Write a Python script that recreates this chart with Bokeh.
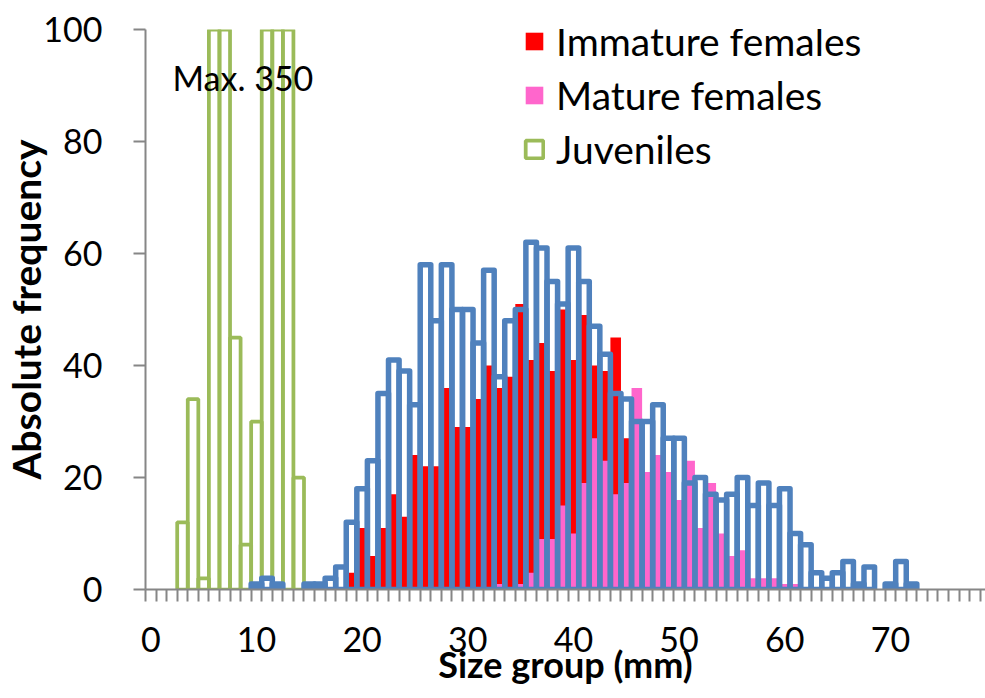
from bokeh.plotting import figure
from bokeh.models import Range1d, FixedTicker, Legend, LegendItem, Label
from bokeh.embed import file_html
from bokeh.resources import INLINE

# ---- data (size group in mm, absolute frequency) ----
x_tick_values = [0, 10, 20, 30, 40, 50, 60, 70]
x_tick_labels = ["0", "10", "20", "30", "40", "50", "60", "70"]
y_tick_values = [0, 20, 40, 60, 80, 100]

juvenile_sizes = [3, 4, 5, 6, 7, 8, 9, 10, 11, 12, 13, 14]
juvenile_counts = [12, 34, 2, 160, 230, 45, 8, 30, 350, 280, 140, 20]

other_sizes = [10, 11, 12, 15, 16, 17, 18, 19, 20, 21, 22, 23, 24, 25, 26, 27, 28, 29, 30,
               31, 32, 33, 34, 35, 36, 37, 38, 39, 40, 41, 42, 43, 44, 45, 46, 47, 48, 49,
               50, 51, 52, 53, 54, 55, 56, 57, 58, 59, 60, 61, 62, 63, 64, 65, 66, 67, 68,
               70, 71, 72]
other_counts = [1, 2, 1, 1, 1, 2, 4, 12, 18, 23, 35, 41, 39, 33, 58, 48, 58, 50, 50,
                44, 57, 38, 48, 50, 62, 61, 55, 51, 61, 55, 47, 42, 35, 34, 30, 30, 33, 27,
                27, 19, 20, 17, 16, 17, 20, 15, 19, 15, 18, 10, 8, 3, 2, 3, 5, 1, 4,
                1, 5, 1]

immature_sizes = [19, 20, 21, 22, 23, 24, 25, 26, 27, 28, 29, 30, 31, 32, 33, 34, 35, 36,
                  37, 38, 39, 40, 41, 42, 43, 44, 45]
immature_counts = [3, 11, 6, 11, 17, 13, 24, 22, 22, 36, 29, 29, 34, 40, 36, 38, 51, 41,
                   44, 39, 50, 41, 49, 40, 39, 45, 27]

mature_sizes = [33, 35, 36, 37, 38, 39, 40, 41, 42, 43, 44, 45, 46, 47, 48, 49, 50, 51,
                52, 53, 54, 55, 56, 57, 58, 59, 60, 61]
mature_counts = [1, 1, 3, 9, 9, 15, 10, 19, 27, 23, 17, 19, 36, 21, 24, 21, 16, 23,
                 11, 19, 10, 6, 7, 2, 2, 2, 1, 1]

n_categories = 80
category_bounds = [k - 0.5 for k in range(n_categories)]

FONT = "Lato"
GRAY = "#868686"

p = figure(width=985, height=698, output_backend="svg", toolbar_location=None,
           x_range=Range1d(-0.5, 79.0), y_range=Range1d(0, 100),
           min_border_left=145, min_border_right=0, min_border_top=29, min_border_bottom=109)
p.outline_line_color = None
p.xgrid.visible = False
p.ygrid.visible = False
p.background_fill_color = "white"
p.border_fill_color = "white"

juv = p.vbar(x=juvenile_sizes, top=juvenile_counts, bottom=0, width=1.0,
             fill_color=None, line_color="#9BBB59", line_width=3.75)
imm = p.vbar(x=immature_sizes, top=immature_counts, bottom=0, width=1.0,
             fill_color="#FF0000", line_color=None)
mat = p.vbar(x=mature_sizes, top=mature_counts, bottom=0, width=1.0,
             fill_color="#FF66CC", line_color=None)
oth = p.vbar(x=other_sizes, top=other_counts, bottom=0, width=1.0,
             fill_color=None, line_color="#4F81BD", line_width=5.5, line_join="round")

# x axis
xa = p.xaxis[0]
xa.ticker = FixedTicker(ticks=x_tick_values, minor_ticks=category_bounds)
xa.major_label_overrides = {v: s for v, s in zip(x_tick_values, x_tick_labels)}
xa.axis_line_color = GRAY
xa.axis_line_width = 2
xa.major_tick_line_color = None
xa.major_tick_out = 12
xa.major_tick_in = 0
xa.minor_tick_line_color = GRAY
xa.minor_tick_line_width = 2
xa.minor_tick_out = 12
xa.minor_tick_in = 0
xa.major_label_text_font = FONT
xa.major_label_text_font_size = "34px"
xa.major_label_text_color = "black"
xa.major_label_standoff = 25
xa.axis_label = "Size group (mm)"
xa.axis_label_text_font = FONT
xa.axis_label_text_font_size = "36px"
xa.axis_label_text_font_style = "bold"
xa.axis_label_text_color = "black"
xa.axis_label_standoff = -13

# y axis
ya = p.yaxis[0]
ya.ticker = FixedTicker(ticks=y_tick_values)
ya.axis_line_color = GRAY
ya.axis_line_width = 2
ya.major_tick_line_color = GRAY
ya.major_tick_line_width = 2
ya.major_tick_out = 12
ya.major_tick_in = 0
ya.minor_tick_line_color = None
ya.major_label_text_font = FONT
ya.major_label_text_font_size = "34px"
ya.major_label_text_color = "black"
ya.major_label_standoff = 31
ya.axis_label = "Absolute frequency"
ya.axis_label_text_font = FONT
ya.axis_label_text_font_size = "39px"
ya.axis_label_text_font_style = "bold"
ya.axis_label_text_color = "black"
ya.axis_label_standoff = -9

legend = Legend(items=[LegendItem(label="Immature females", renderers=[imm]),
                       LegendItem(label="Mature females", renderers=[mat]),
                       LegendItem(label="Juveniles", renderers=[juv])],
                location=(378, 413), orientation="vertical",
                glyph_width=22, glyph_height=22, label_standoff=11,
                label_height=54, spacing=0, padding=0, margin=0,
                border_line_color=None, background_fill_alpha=0,
                label_text_font=FONT, label_text_font_size="39px",
                label_text_color="black")
p.add_layout(legend)

p.add_layout(Label(x=2.06, y=91.4, text="Max. 350", text_font=FONT,
                   text_font_size="34px", text_baseline="middle", text_align="left",
                   text_color="black"))

open("out.html", "w").write(file_html(p, INLINE))
